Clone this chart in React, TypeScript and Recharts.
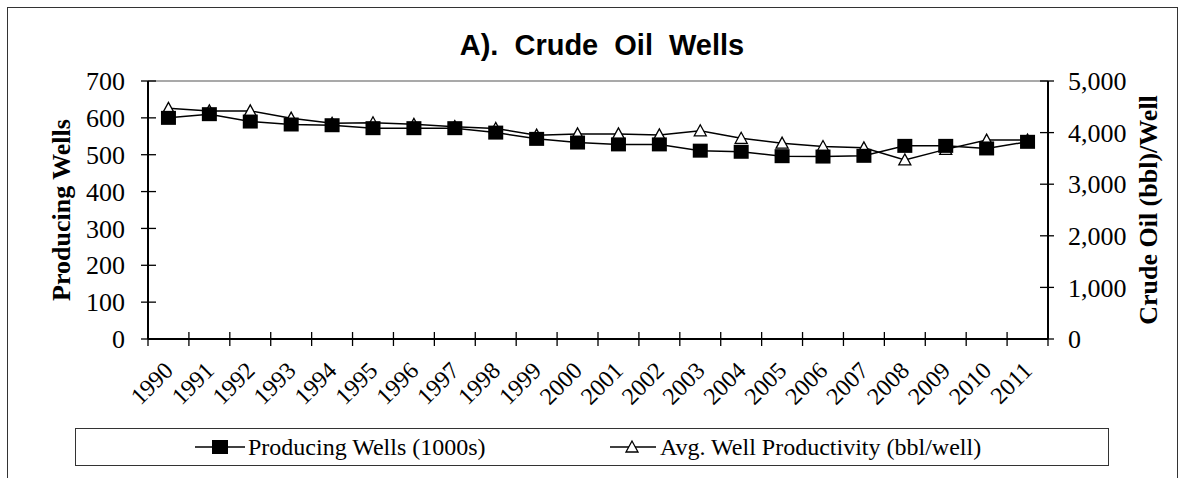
import { ComposedChart, Line, XAxis, YAxis, ReferenceLine } from 'recharts'

const years = [
  '1990', '1991', '1992', '1993', '1994', '1995', '1996', '1997', '1998', '1999', '2000',
  '2001', '2002', '2003', '2004', '2005', '2006', '2007', '2008', '2009', '2010', '2011',
]
// thousands of wells
const producingWells = [
  600, 610, 590, 582, 580, 572, 572, 572, 560, 543, 533,
  528, 528, 511, 508, 496, 495, 497, 524, 524, 517, 535,
]
// bbl per well
const wellProductivity = [
  4470, 4420, 4420, 4280, 4180, 4190, 4160, 4115, 4080, 3950, 3975,
  3975, 3955, 4035, 3890, 3795, 3730, 3705, 3470, 3675, 3855, 3855,
]
const wellTicks = [0, 100, 200, 300, 400, 500, 600, 700]
const productivityTicks = [0, 1000, 2000, 3000, 4000, 5000]

const SERIF = '"Liberation Serif", "Times New Roman", serif'
const SANS = '"Liberation Sans", Arial, sans-serif'

const CHART_W = 1169
const CHART_H = 470
const PLOT_LEFT = 140
const PLOT_RIGHT = 1040
const BAND = (PLOT_RIGHT - PLOT_LEFT) / years.length

const data = years.map((year, i) => ({
  pos: i + 0.5,
  year,
  wells: producingWells[i],
  productivity: wellProductivity[i],
}))
const boundaries = years.map((_, i) => i).concat(years.length)

function YearTick({ x, y, payload }: any) {
  const i = payload.value
  const lx = x + BAND / 2 + 6
  const ly = y + 33
  return (
    <g>
      <line x1={x} x2={x} y1={y - 7} y2={y + 7} stroke="#000" strokeWidth={1.3} />
      {i < years.length && (
        <text x={lx} y={ly} transform={`rotate(-45 ${lx} ${ly})`} textAnchor="end"
          fontSize={24} fontFamily={SERIF} fill="#000">
          {years[i]}
        </text>
      )}
    </g>
  )
}

function LeftTick({ x, y, payload }: any) {
  return (
    <g>
      <line x1={x - 7} x2={x + 8} y1={y} y2={y} stroke="#000" strokeWidth={1.3} />
      <text x={x - 23} y={y} dy="0.35em" textAnchor="end" fontSize={26} fontFamily={SERIF} fill="#000">
        {payload.value}
      </text>
    </g>
  )
}

function RightTick({ x, y, payload }: any) {
  return (
    <g>
      <line x1={x - 8} x2={x + 6} y1={y} y2={y} stroke="#000" strokeWidth={1.3} />
      <text x={x + 20} y={y} dy="0.35em" textAnchor="start" fontSize={26} fontFamily={SERIF} fill="#000">
        {payload.value.toLocaleString('en-US')}
      </text>
    </g>
  )
}

const SquareDot = ({ cx, cy }: any) =>
  cx == null ? null : <rect x={cx - 7.5} y={cy - 7} width={15} height={14} fill="#000" />

const TriangleDot = ({ cx, cy }: any) =>
  cx == null ? null : (
    <polygon
      points={`${cx},${cy - 6} ${cx - 6},${cy + 5} ${cx + 6},${cy + 5}`}
      fill="#fff" stroke="#000" strokeWidth={1.3}
    />
  )

const axisTitle = { textAnchor: 'middle', fontSize: 26, fontWeight: 'bold', fontFamily: SERIF, fill: '#000' } as any

export default function App() {
  return (
    <>
      <style>{'body{margin:0;overflow:hidden;background:#fff}'}</style>
      <div style={{
        position: 'absolute', left: 7, top: 7, width: CHART_W, height: 480,
        borderTop: '1px solid #333', borderLeft: '1px solid #333', borderRight: '1px solid #333',
      }}>
        {/* title */}
        <div style={{
          position: 'absolute', left: 0, width: 1188, top: 23, textAlign: 'center',
          fontFamily: SANS, fontWeight: 'bold', fontSize: 29, lineHeight: '29px', wordSpacing: 8, color: '#000',
        }}>
          A). Crude Oil Wells
        </div>

        <ComposedChart width={CHART_W} height={CHART_H} data={data}
          margin={{ top: 73, right: 0, bottom: 79, left: 0 }}>
          <XAxis xAxisId="x" dataKey="pos" type="number" domain={[0, years.length]} ticks={boundaries}
            interval={0} height={60} tickSize={0} tickMargin={0} tickLine={false}
            axisLine={{ stroke: '#000', strokeWidth: 2 }} tick={<YearTick />} />
          <YAxis yAxisId="left" orientation="left" domain={[0, 700]} ticks={wellTicks} interval={0}
            width={PLOT_LEFT} tickSize={0} tickMargin={0} tickLine={false}
            axisLine={{ stroke: '#000', strokeWidth: 2 }} tick={<LeftTick />}
            label={{ value: 'Producing Wells', angle: -90, position: 'insideLeft', offset: 53, style: axisTitle }} />
          <YAxis yAxisId="right" orientation="right" domain={[0, 5000]} ticks={productivityTicks} interval={0}
            width={CHART_W - PLOT_RIGHT} tickSize={0} tickMargin={0} tickLine={false}
            axisLine={{ stroke: '#000', strokeWidth: 2 }} tick={<RightTick />}
            label={{ value: 'Crude Oil (bbl)/Well', angle: -90, position: 'insideRight', offset: 29, style: axisTitle }} />
          <ReferenceLine xAxisId="x" yAxisId="left" y={700} stroke="#8c8c8c" strokeWidth={1.3} />
          <Line xAxisId="x" yAxisId="right" dataKey="productivity" stroke="#000" strokeWidth={1.5}
            dot={<TriangleDot />} activeDot={false} isAnimationActive={false} />
          <Line xAxisId="x" yAxisId="left" dataKey="wells" stroke="#000" strokeWidth={1.5}
            dot={<SquareDot />} activeDot={false} isAnimationActive={false} />
        </ComposedChart>

        {/* legend */}
        <div style={{
          position: 'absolute', left: 67, top: 420, width: 1032, height: 36,
          border: '1.5px solid #333', fontFamily: SERIF, fontSize: 24, color: '#000',
        }}>
          <svg style={{ position: 'absolute', left: 119, top: 9 }} width={52} height={18}>
            <line x1={0} x2={50} y1={9} y2={9} stroke="#000" strokeWidth={1.5} />
            <rect x={17} y={2} width={16} height={14} fill="#000" />
          </svg>
          <div style={{ position: 'absolute', left: 172, top: 0, lineHeight: '36px', whiteSpace: 'nowrap' }}>
            Producing Wells (1000s)
          </div>
          <svg style={{ position: 'absolute', left: 534, top: 9 }} width={48} height={18}>
            <line x1={0} x2={46} y1={9} y2={9} stroke="#000" strokeWidth={1.5} />
            <polygon points="22,3 16,14 28,14" fill="#fff" stroke="#000" strokeWidth={1.3} />
          </svg>
          <div style={{ position: 'absolute', left: 584, top: 0, lineHeight: '36px', whiteSpace: 'nowrap' }}>
            Avg. Well Productivity (bbl/well)
          </div>
        </div>
      </div>
    </>
  )
}
